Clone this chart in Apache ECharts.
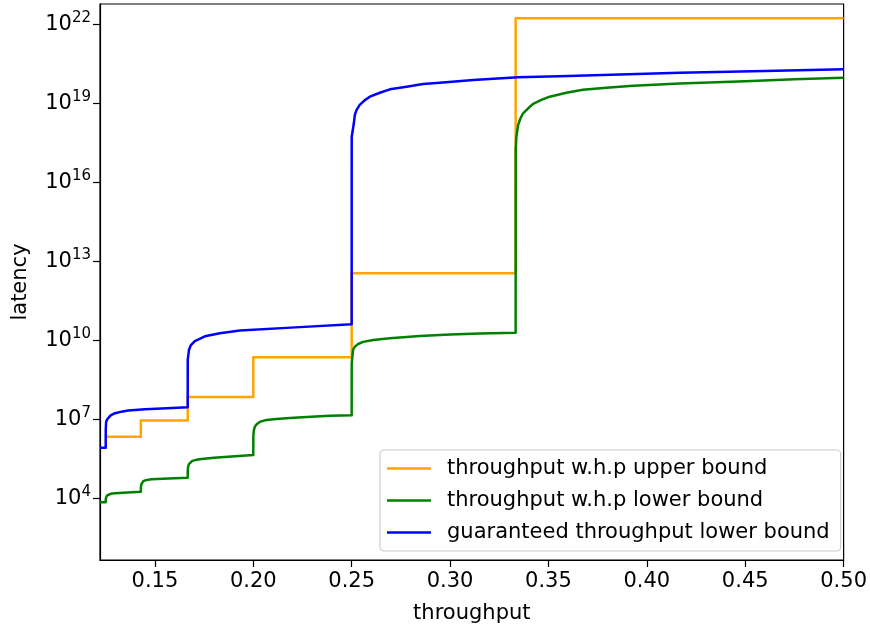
<!DOCTYPE html>
<html>
<head>
<meta charset="utf-8">
<script src="https://cdn.jsdelivr.net/npm/echarts@6/dist/echarts.min.js"></script>
<style>
  html, body { margin: 0; padding: 0; background: #fff; }
  #chart { width: 870px; height: 630px; }
</style>
</head>
<body>
<div id="chart"></div>
<script>
// throughput values (x) and log10 of latency (y)
var upperX = [0.125, 0.14286, 0.14286, 0.16667, 0.16667, 0.2, 0.2, 0.25, 0.25, 0.33333, 0.33333, 0.5];
var upperLog = [6.34, 6.34, 6.95, 6.95, 7.85, 7.85, 9.36, 9.36, 12.55, 12.55, 22.23, 22.23];

var lowerX = [0.1221, 0.125, 0.12502, 0.1252, 0.1256, 0.1263, 0.1275, 0.1297, 0.136, 0.14286,
  0.14288, 0.1431, 0.1435, 0.1441, 0.1455, 0.1483, 0.157, 0.16667,
  0.16669, 0.1669, 0.1673, 0.1680, 0.1690, 0.1710, 0.1737, 0.180, 0.1872, 0.2,
  0.20002, 0.2003, 0.2008, 0.2017, 0.2033, 0.2059, 0.2101, 0.2186, 0.2271, 0.2389, 0.25,
  0.25002, 0.2507, 0.2516, 0.2533, 0.2558, 0.2609, 0.2694, 0.2846, 0.30, 0.3150, 0.33333,
  0.33335, 0.3337, 0.3346, 0.3358, 0.3371, 0.3397, 0.3422, 0.3464, 0.3506, 0.3591, 0.3675,
  0.3794, 0.393, 0.4167, 0.45, 0.475, 0.5];
var lowerLog = [3.85, 3.85, 3.98, 4.05, 4.10, 4.14, 4.17, 4.19, 4.22, 4.25,
  4.42, 4.53, 4.60, 4.65, 4.69, 4.72, 4.75, 4.78,
  5.05, 5.20, 5.30, 5.37, 5.42, 5.46, 5.49, 5.54, 5.58, 5.64,
  6.34, 6.59, 6.72, 6.81, 6.90, 6.96, 7.00, 7.05, 7.09, 7.13, 7.15,
  9.13, 9.63, 9.76, 9.86, 9.94, 10.01, 10.08, 10.16, 10.22, 10.26, 10.29,
  17.23, 17.73, 18.18, 18.43, 18.62, 18.81, 18.98, 19.13, 19.25, 19.40, 19.51,
  19.59, 19.67, 19.75, 19.84, 19.91, 19.97];

var guarX = [0.1221, 0.125, 0.12502, 0.1252, 0.1256, 0.1263, 0.1275, 0.1297, 0.133, 0.1364, 0.145, 0.1534, 0.16667,
  0.16669, 0.1673, 0.1683, 0.1703, 0.1754, 0.183, 0.1932, 0.2236, 0.25,
  0.25002, 0.2511, 0.2516, 0.2525, 0.2541, 0.2567, 0.2592, 0.2643, 0.2694, 0.2779, 0.2863,
  0.2948, 0.3117, 0.3346, 0.36, 0.4167, 0.46, 0.5];
var guarLog = [5.92, 5.92, 6.6, 6.88, 6.98, 7.05, 7.15, 7.23, 7.29, 7.33, 7.38, 7.41, 7.46,
  9.26, 9.63, 9.82, 9.97, 10.15, 10.27, 10.37, 10.50, 10.61,
  17.73, 18.24, 18.56, 18.75, 18.94, 19.12, 19.25, 19.40, 19.53, 19.63, 19.73,
  19.78, 19.88, 19.99, 20.04, 20.16, 20.23, 20.29];

var xTicks = [0.15, 0.2, 0.25, 0.3, 0.35, 0.4, 0.45, 0.5];
var yTicks = [1e4, 1e7, 1e10, 1e13, 1e16, 1e19, 1e22];

var names = ['throughput w.h.p upper bound', 'throughput w.h.p lower bound', 'guaranteed throughput lower bound'];
var colors = ['#FFA500', '#008000', '#0000FF'];

function pairs(xs, logs) {
  var out = [];
  for (var i = 0; i < xs.length; i++) {
    out.push([xs[i], Math.pow(10, logs[i])]);
  }
  return out;
}

var font = 'DejaVu Sans';
var chart = echarts.init(document.getElementById('chart'));

function makeSeries(i, data) {
  return {
    name: names[i],
    type: 'line',
    data: data,
    symbol: 'none',
    color: colors[i],
    lineStyle: { color: colors[i], width: 2.5, join: 'round' },
    animation: false
  };
}

chart.setOption({
  animation: false,
  grid: {
    left: 100, right: 24, top: 4, bottom: 70,
    show: true, borderColor: '#000', borderWidth: 1.2, backgroundColor: 'transparent'
  },
  legend: {
    orient: 'vertical',
    left: 380, top: 450,
    icon: 'rect',
    itemWidth: 44, itemHeight: 2.6, itemGap: 11,
    padding: [8, 11, 8, 7],
    backgroundColor: 'rgba(255,255,255,0.8)',
    borderColor: '#cccccc', borderWidth: 1.2, borderRadius: 4,
    textStyle: { fontFamily: font, fontSize: 21, color: '#000', padding: [0, 0, 0, 11] },
    data: names
  },
  xAxis: {
    type: 'value',
    min: 0.1221, max: 0.5,
    name: 'throughput', nameLocation: 'middle', nameGap: 43,
    nameTextStyle: { fontFamily: font, fontSize: 21, color: '#000' },
    axisLine: { lineStyle: { color: '#000', width: 1.2 } },
    axisTick: { customValues: xTicks, length: 7, lineStyle: { color: '#000', width: 1.2 } },
    axisLabel: {
      customValues: xTicks, margin: 11,
      fontFamily: font, fontSize: 21, color: '#000',
      formatter: function (v) { return v.toFixed(2); }
    },
    splitLine: { show: false }
  },
  yAxis: {
    type: 'log', logBase: 10,
    min: Math.pow(10, 1.657), max: Math.pow(10, 22.77),
    name: 'latency', nameLocation: 'middle', nameGap: 69,
    nameTextStyle: { fontFamily: font, fontSize: 21, color: '#000' },
    axisLine: { show: true, lineStyle: { color: '#000', width: 1.2 } },
    axisTick: { show: true, customValues: yTicks, length: 7, lineStyle: { color: '#000', width: 1.2 } },
    axisLabel: {
      customValues: yTicks, margin: 9,
      formatter: function (v) {
        return '{b|10}{s|' + Math.round(Math.log10(v)) + '}';
      },
      rich: {
        b: { fontFamily: font, fontSize: 21, color: '#000', lineHeight: 28, verticalAlign: 'middle' },
        s: { fontFamily: font, fontSize: 15, color: '#000', lineHeight: 16, verticalAlign: 'top' }
      }
    },
    splitLine: { show: false }
  },
  series: [
    makeSeries(0, pairs(upperX, upperLog)),
    makeSeries(1, pairs(lowerX, lowerLog)),
    makeSeries(2, pairs(guarX, guarLog))
  ]
});
</script>
</body>
</html>
